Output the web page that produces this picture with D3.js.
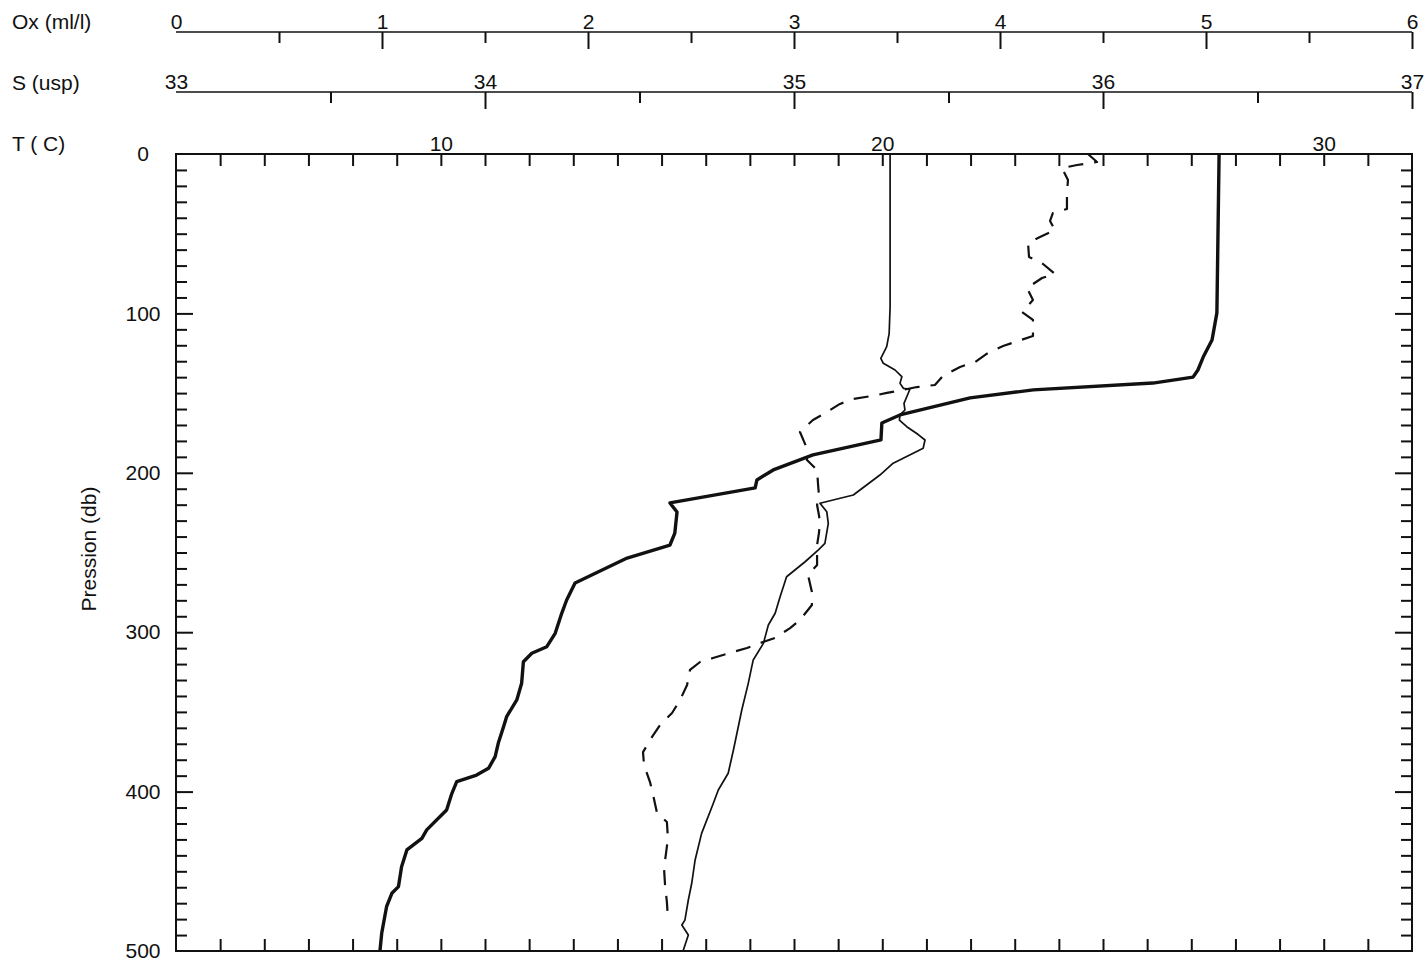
<!DOCTYPE html>
<html>
<head>
<meta charset="utf-8">
<script src="https://cdn.jsdelivr.net/npm/d3@7"></script>
<style>
  html, body { margin: 0; padding: 0; background: #fff; }
  svg text { font-family: "Liberation Sans", Arial, Helvetica, sans-serif; fill: #111; }
</style>
</head>
<body>
<svg id="chart" width="1425" height="961"></svg>
<script>
// ---- Data ----
// Temperature profile (thick solid line)
const pressureT = [0, 99.7, 116.7, 127.4, 135.5, 140, 143.7, 148, 153, 163.7, 168.8, 179.4, 188.8, 198.2, 204.5, 209.5, 218.9, 224.6, 237.8, 245.3, 253.5, 269.1, 279.8, 288, 300.7, 309.1, 313.2, 318.5, 332, 342.5, 353, 359.3, 369.7, 378.1, 385.4, 389.6, 393.8, 401.1, 411.5, 424, 429.3, 436.6, 447.1, 459.6, 463.8, 472.2, 488.9, 500];
const temperature = [27.63, 27.58, 27.47, 27.27, 27.15, 27.04, 26.13, 23.42, 21.99, 20.40, 19.99, 19.97, 18.43, 17.53, 17.16, 17.12, 15.19, 15.35, 15.30, 15.19, 14.22, 13.04, 12.85, 12.74, 12.59, 12.40, 12.06, 11.87, 11.83, 11.72, 11.49, 11.42, 11.30, 11.23, 11.08, 10.81, 10.36, 10.25, 10.13, 9.68, 9.57, 9.23, 9.11, 9.04, 8.89, 8.77, 8.66, 8.62];

// Salinity profile (thin solid line)
const pressureS = [0, 95.8, 112.5, 120.9, 128.2, 131.3, 135.5, 139.7, 143.9, 147, 147.6, 152.3, 156.4, 160.6, 163.7, 166.9, 171.1, 176, 179.4, 184.6, 194, 201.4, 213.9, 219.1, 224.4, 231.7, 244.3, 248.4, 255.8, 265.2, 277.7, 288.1, 295.5, 307, 317.4, 332.1, 348.8, 373.9, 388.5, 399, 407.3, 426.2, 442.9, 457.5, 468, 480.6, 483.7, 490, 500];
const salinity = [35.311, 35.311, 35.308, 35.300, 35.281, 35.289, 35.327, 35.349, 35.343, 35.354, 35.375, 35.365, 35.356, 35.359, 35.343, 35.341, 35.365, 35.402, 35.424, 35.418, 35.321, 35.278, 35.192, 35.084, 35.106, 35.111, 35.100, 35.079, 35.036, 34.976, 34.955, 34.939, 34.917, 34.901, 34.868, 34.852, 34.831, 34.804, 34.787, 34.755, 34.739, 34.701, 34.680, 34.669, 34.658, 34.647, 34.637, 34.658, 34.641];

// Dissolved oxygen profile (dashed line)
const pressureOx = [0, 5.0, 6.9, 8.8, 16.3, 24.5, 34.5, 37.0, 42.0, 47.7, 52.1, 55.8, 64.6, 69.0, 75.3, 77.8, 84.1, 91.6, 99.1, 104.1, 114.2, 117.3, 120.5, 124.8, 130.5, 133.6, 139.3, 144.9, 146.2, 148.1, 149.9, 151.8, 153.7, 156.8, 161.9, 166.9, 174.4, 183.2, 192.0, 198.2, 207.7, 213.9, 220.2, 226.5, 230.9, 237.8, 245.3, 257.8, 264.1, 274.8, 282.9, 292.3, 297.4, 303.6, 306.1, 309.9, 313.0, 316.2, 318.7, 323.7, 333.1, 342.5, 350.7, 358.2, 365.7, 375.2, 383.3, 394.0, 402.1, 413.4, 419.1, 429.1, 438.5, 447.9, 458.6, 469.3, 479.3];
const oxygen = [4.427, 4.471, 4.374, 4.301, 4.330, 4.325, 4.325, 4.257, 4.243, 4.267, 4.194, 4.136, 4.141, 4.209, 4.267, 4.204, 4.131, 4.160, 4.107, 4.160, 4.160, 4.087, 4.015, 3.942, 3.879, 3.806, 3.723, 3.684, 3.597, 3.524, 3.451, 3.379, 3.286, 3.223, 3.160, 3.092, 3.029, 3.058, 3.063, 3.112, 3.117, 3.121, 3.112, 3.121, 3.126, 3.121, 3.112, 3.112, 3.068, 3.087, 3.087, 3.029, 2.981, 2.908, 2.850, 2.772, 2.689, 2.607, 2.544, 2.495, 2.481, 2.447, 2.408, 2.350, 2.311, 2.267, 2.272, 2.301, 2.316, 2.335, 2.383, 2.388, 2.379, 2.369, 2.374, 2.383, 2.388];

// Tick labels
const oxTickLabels = [0, 1, 2, 3, 4, 5, 6];
const sTickLabels = [33, 34, 35, 36, 37];
const tTickLabels = [10, 20, 30];
const pTickLabels = [0, 100, 200, 300, 400, 500];

// ---- Layout ----
const L = 176, R = 1412, T0 = 154, B = 951;
const svg = d3.select("#chart");

const xT = d3.scaleLinear().domain([4, 32]).range([L, R]);
const xS = d3.scaleLinear().domain([33, 37]).range([L, R]);
const xOx = d3.scaleLinear().domain([0, 6]).range([L, R]);
const y = d3.scaleLinear().domain([0, 500]).range([T0, B]);

const TICK_FONT = 21, TITLE_FONT = 21;

function styleTicks(g, w) {
  g.select(".domain").remove();
  g.selectAll(".tick line").attr("stroke", "#111").attr("stroke-width", w);
  g.selectAll(".tick text").remove();
}
function styleLabels(g, size) {
  g.select(".domain").remove();
  g.selectAll(".tick line").remove();
  g.selectAll(".tick text").attr("fill", "#111").style("font-size", size + "px")
    .style("font-family", '"Liberation Sans", Arial, Helvetica, sans-serif');
}

// ---- Top auxiliary axes (Ox, S) ----
function topScaleAxis(scale, majors, minors, yPos) {
  svg.append("line").attr("x1", L).attr("x2", R).attr("y1", yPos).attr("y2", yPos)
    .attr("stroke", "#111").attr("stroke-width", 1.6);
  svg.append("g").attr("transform", `translate(0,${yPos})`)
    .call(d3.axisBottom(scale).tickValues(minors).tickSize(11).tickSizeOuter(0))
    .call(g => styleTicks(g, 2));
  svg.append("g").attr("transform", `translate(0,${yPos})`)
    .call(d3.axisBottom(scale).tickValues(majors.slice(1)).tickSize(17).tickSizeOuter(0))
    .call(g => styleTicks(g, 2));
  svg.append("g").attr("transform", `translate(0,${yPos})`)
    .call(d3.axisTop(scale).tickValues(majors).tickSize(0).tickPadding(3).tickFormat(d3.format("d")))
    .call(g => styleLabels(g, TICK_FONT));
}
topScaleAxis(xOx, oxTickLabels, d3.range(0.5, 6, 1), 32);
topScaleAxis(xS, sTickLabels, d3.range(33.5, 37, 1), 92);

// ---- Axis titles ----
const titles = [["Ox (ml/l)", 29], ["S (usp)", 90], ["T ( C)", 151]];
titles.forEach(([t, yy]) => {
  svg.append("text").attr("x", 12).attr("y", yy).style("font-size", TITLE_FONT + "px").text(t);
});

// ---- Frame ----
svg.append("rect").attr("x", L).attr("y", T0).attr("width", R - L).attr("height", B - T0)
  .attr("fill", "none").attr("stroke", "#111").attr("stroke-width", 2);

// Temperature ticks (top and bottom, inward)
const tMinor = d3.range(5, 32, 1);
svg.append("g").attr("transform", `translate(0,${T0})`)
  .call(d3.axisBottom(xT).tickValues(tMinor).tickSize(12).tickSizeOuter(0))
  .call(g => styleTicks(g, 2));
svg.append("g").attr("transform", `translate(0,${B})`)
  .call(d3.axisTop(xT).tickValues(tMinor).tickSize(12).tickSizeOuter(0))
  .call(g => styleTicks(g, 2));
svg.append("g").attr("transform", `translate(0,${T0})`)
  .call(d3.axisTop(xT).tickValues(tTickLabels).tickSize(0).tickPadding(3).tickFormat(d3.format("d")))
  .call(g => styleLabels(g, TICK_FONT));

// Pressure ticks (left and right, inward)
const pMinor = d3.range(10, 500, 10).filter(v => v % 100 !== 0);
const pMajor = [100, 200, 300, 400];
svg.append("g").attr("transform", `translate(${L},0)`)
  .call(d3.axisRight(y).tickValues(pMinor).tickSize(11).tickSizeOuter(0))
  .call(g => styleTicks(g, 2));
svg.append("g").attr("transform", `translate(${L},0)`)
  .call(d3.axisRight(y).tickValues(pMajor).tickSize(17).tickSizeOuter(0))
  .call(g => styleTicks(g, 2));
svg.append("g").attr("transform", `translate(${R},0)`)
  .call(d3.axisLeft(y).tickValues(pMinor).tickSize(11).tickSizeOuter(0))
  .call(g => styleTicks(g, 2));
svg.append("g").attr("transform", `translate(${R},0)`)
  .call(d3.axisLeft(y).tickValues(pMajor).tickSize(17).tickSizeOuter(0))
  .call(g => styleTicks(g, 2));
svg.append("g").attr("transform", `translate(${L},0)`)
  .call(d3.axisLeft(y).tickValues(pTickLabels).tickSize(0).tickPadding(33).tickFormat(d3.format("d")))
  .call(g => styleLabels(g, TICK_FONT))
  .call(g => g.selectAll(".tick text").attr("text-anchor", "middle"));

svg.append("text")
  .attr("transform", "translate(96,549) rotate(-90)")
  .attr("text-anchor", "middle")
  .style("font-size", TITLE_FONT + "px")
  .text("Pression (db)");

// ---- Profiles ----
function profile(xs, ps, xScale) {
  return d3.line().x(d => xScale(d[0])).y(d => y(d[1]))(xs.map((v, i) => [v, ps[i]]));
}

svg.append("path").attr("d", profile(salinity, pressureS, xS))
  .attr("fill", "none").attr("stroke", "#111").attr("stroke-width", 1.7)
  .attr("stroke-linejoin", "round");

svg.append("path").attr("d", profile(oxygen, pressureOx, xOx))
  .attr("fill", "none").attr("stroke", "#111").attr("stroke-width", 2.2)
  .attr("stroke-dasharray", "15,11").attr("stroke-linejoin", "round");

svg.append("path").attr("d", profile(temperature, pressureT, xT))
  .attr("fill", "none").attr("stroke", "#111").attr("stroke-width", 3.4)
  .attr("stroke-linejoin", "round");
</script>
</body>
</html>
